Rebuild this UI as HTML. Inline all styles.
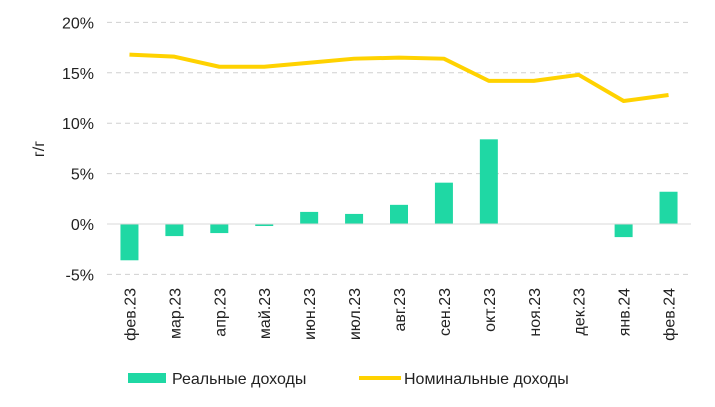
<!DOCTYPE html>
<html><head><meta charset="utf-8"><style>
body{margin:0;background:#fff;}
svg{display:block;font-family:"Liberation Sans","DejaVu Sans",sans-serif;}
</style></head><body>
<svg id="chart" width="715" height="407" viewBox="0 0 715 407"></svg>
<script>
const categories=["фев.23","мар.23","апр.23","май.23","июн.23","июл.23","авг.23","сен.23","окт.23","ноя.23","дек.23","янв.24","фев.24"];
const realIncome=[-3.6,-1.2,-0.9,-0.2,1.2,1.0,1.9,4.1,8.4,0,0,-1.3,3.2];
const nominalIncome=[16.8,16.6,15.6,15.6,16.0,16.4,16.5,16.4,14.2,14.2,14.8,12.2,12.8];
const yTicks=[-5,0,5,10,15,20];
const NS="http://www.w3.org/2000/svg";
const svg=document.getElementById('chart');
const left=107,right=691,step=(right-left)/categories.length;
function x(i){return left+step*(i+0.5);}
function y(v){return 224-v*10.08;}
function mk(t,a){const e=document.createElementNS(NS,t);for(const k in a)e.setAttribute(k,a[k]);svg.appendChild(e);return e;}
yTicks.forEach(t=>{
  if(t!==0){const g=mk('line',{x1:left,x2:right,y1:y(t),y2:y(t),stroke:'#d0d0d0','stroke-width':1,'stroke-dasharray':'5,4'});
  
  }
  const l=mk('text',{x:94,y:y(t)+6,'text-anchor':'end','font-size':16,fill:'#222'});
  l.textContent=t+'%';
  
  
});
realIncome.forEach((v,i)=>{
  const b=mk('rect',{x:x(i)-9,y:Math.min(y(v),y(0)),width:18,height:Math.abs(y(v)-y(0)),fill:'#1fd8a4'});
  
  
});
const ax=mk('line',{x1:left,x2:right,y1:y(0),y2:y(0),stroke:'#d9d9d9','stroke-width':1});


const pl=mk('polyline',{points:nominalIncome.map((v,i)=>x(i)+','+y(v)).join(' '),fill:'none',stroke:'#ffd200','stroke-width':4,'stroke-linejoin':'round'});


categories.forEach((c,i)=>{
  const t=mk('text',{transform:`translate(${x(i)+6},288) rotate(-90)`,'text-anchor':'end','font-size':16,fill:'#222'});
  t.textContent=c;
  
  
});
const yt=mk('text',{transform:'translate(44,149) rotate(-90)','text-anchor':'middle','font-size':16,fill:'#222'});
yt.textContent='г/г';


const lr=mk('rect',{x:128,y:373,width:38,height:10,fill:'#1fd8a4'});


const lt1=mk('text',{x:172,y:384,'font-size':16,fill:'#222'});
lt1.textContent='Реальные доходы';


const ll=mk('line',{x1:359,x2:401,y1:378,y2:378,stroke:'#ffd200','stroke-width':4});


const lt2=mk('text',{x:404,y:384,'font-size':16,fill:'#222'});
lt2.textContent='Номинальные доходы';


</script>
</body></html>
